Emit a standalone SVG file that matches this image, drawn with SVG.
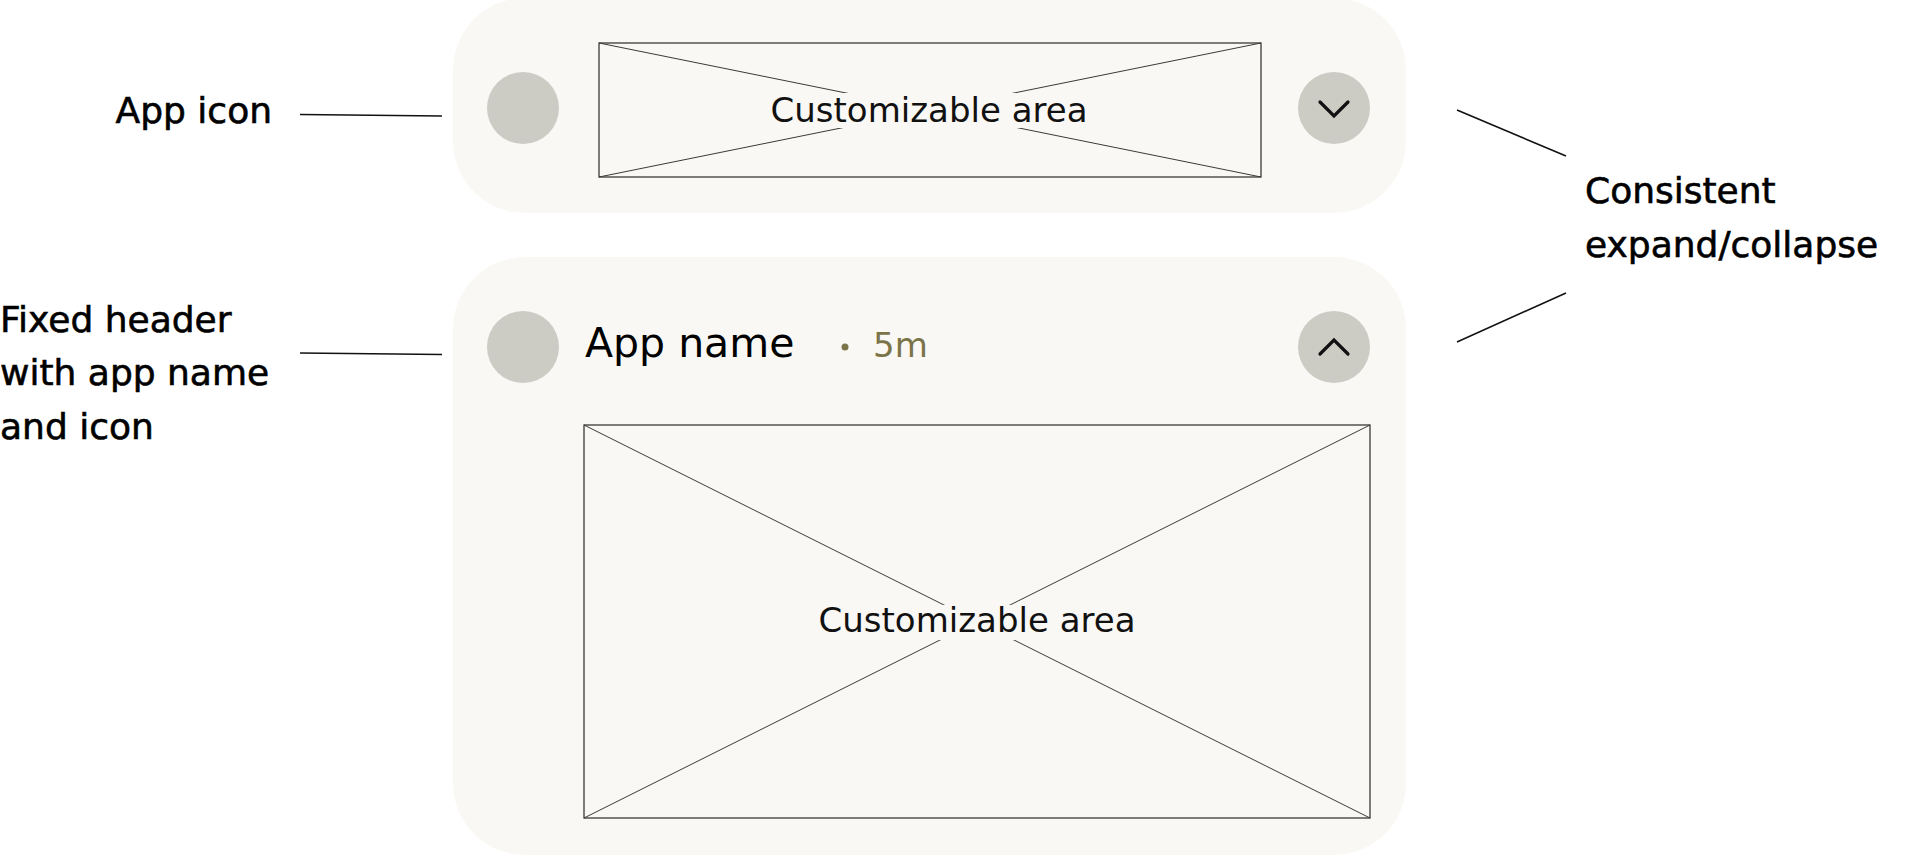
<svg xmlns="http://www.w3.org/2000/svg" width="1920" height="856" viewBox="0 0 1920 856">
  <defs>
    <style>
      .card { fill: #f9f8f4; }
      .band { fill: #f9f8f4; }
      .icon { fill: #cccbc4; }
      .ph { fill: none; stroke: #2a2a2a; stroke-width: 1.2; }
      .diag { stroke: #3a3a3a; stroke-width: 1; }
      .chev { fill: none; stroke: #111; stroke-width: 3.2; stroke-linecap: round; stroke-linejoin: miter; }
      .lbl { font-family: "DejaVu Sans", "Liberation Sans", sans-serif; fill: #000; stroke: #000; stroke-width: 0.6; font-size: 36px; }
      .area { font-family: "DejaVu Sans", "Liberation Sans", sans-serif; fill: #111; font-size: 34px; text-anchor: middle; }
      .lead { fill: none; stroke: #111; stroke-width: 1.6; }
    </style>
  </defs>
  <rect width="1920" height="856" fill="#ffffff"/>

  <g id="collapsed-card">
    <rect class="card" x="453" y="-2" width="953" height="215" rx="72" ry="72"/>
    <circle class="icon" cx="523" cy="108" r="36"/>
    <g id="placeholder-top">
      <rect class="ph" x="599" y="43" width="662" height="134"/>
      <line class="diag" x1="599" y1="43" x2="1261" y2="177"/>
      <line class="diag" x1="599" y1="177" x2="1261" y2="43"/>
      <rect class="band" x="760" y="93" width="340" height="35"/>
      <text class="area" x="929" y="122">Customizable area</text>
    </g>
    <g id="expand-button">
      <circle class="icon" cx="1334" cy="108" r="36"/>
      <polyline class="chev" points="1320,102 1334,116 1348,102"/>
    </g>
  </g>

  <g id="expanded-card">
    <rect class="card" x="453" y="257" width="953" height="598" rx="72" ry="72"/>
    <circle class="icon" cx="523" cy="347" r="36"/>
    <text x="585" y="357" font-family="DejaVu Sans, Liberation Sans, sans-serif" font-size="41" fill="#000">App name</text>
    <circle cx="845" cy="347" r="3.5" fill="#7b7449"/>
    <text x="873" y="357" font-family="DejaVu Sans, Liberation Sans, sans-serif" font-size="34" fill="#7b7449">5m</text>
    <g id="collapse-button">
      <circle class="icon" cx="1334" cy="347" r="36"/>
      <polyline class="chev" points="1320,354 1334,340 1348,354"/>
    </g>
    <g id="placeholder-bottom">
      <rect class="ph" x="584" y="425" width="786" height="393"/>
      <line class="diag" x1="584" y1="425" x2="1370" y2="818"/>
      <line class="diag" x1="584" y1="818" x2="1370" y2="425"/>
      <rect class="band" x="800" y="605" width="355" height="35"/>
      <text class="area" x="977" y="632">Customizable area</text>
    </g>
  </g>

  <g id="label-app-icon">
    <text class="lbl" x="272" y="123" text-anchor="end">App icon</text>
  </g>
  <g id="label-fixed-header">
    <text class="lbl" x="0" y="332">Fixed header</text>
    <text class="lbl" x="0" y="385">with app name</text>
    <text class="lbl" x="0" y="439">and icon</text>
  </g>
  <g id="label-expand-collapse">
    <text class="lbl" x="1585" y="203">Consistent</text>
    <text class="lbl" x="1585" y="257">expand/collapse</text>
  </g>

  <g id="connectors">
    <line class="lead" x1="300" y1="114.5" x2="442" y2="116"/>
    <line class="lead" x1="300" y1="353" x2="442" y2="354.5"/>
    <line class="lead" x1="1457" y1="110" x2="1566" y2="156"/>
    <line class="lead" x1="1566" y1="293" x2="1457" y2="342"/>
  </g>
</svg>
